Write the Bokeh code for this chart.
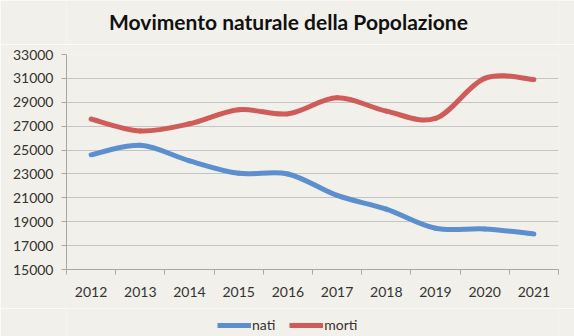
from bokeh.plotting import figure
from bokeh.layouts import column
from bokeh.models import Range1d, FixedTicker, Legend, LegendItem, ColumnDataSource, Label
from bokeh.embed import file_html
from bokeh.resources import INLINE

title_text = "Movimento naturale della Popolazione"
years = ["2012", "2013", "2014", "2015", "2016", "2017", "2018", "2019", "2020", "2021"]
nati = [24600, 25400, 24100, 23050, 23000, 21200, 20050, 18450, 18400, 17980]
morti = [27600, 26600, 27200, 28380, 28030, 29370, 28260, 27650, 31000, 30900]
y_ticks = [15000, 17000, 19000, 21000, 23000, 25000, 27000, 29000, 31000, 33000]

BG = "#f2f0ea"
BLUE = "#5b8fd0"
RED = "#d05c5a"
FONT = "Lato"

xs = [i + 0.5 for i in range(len(years))]


def bezier_source(x, y):
    n = len(x)
    d = dict(x0=[], y0=[], x1=[], y1=[], cx0=[], cy0=[], cx1=[], cy1=[])
    for i in range(n - 1):
        xp, yp = (x[i - 1], y[i - 1]) if i > 0 else (x[i], y[i])
        xn, yn = (x[i + 2], y[i + 2]) if i + 2 < n else (x[i + 1], y[i + 1])
        d["x0"].append(x[i]); d["y0"].append(y[i])
        d["x1"].append(x[i + 1]); d["y1"].append(y[i + 1])
        d["cx0"].append(x[i] + (x[i + 1] - xp) / 6); d["cy0"].append(y[i] + (y[i + 1] - yp) / 6)
        d["cx1"].append(x[i + 1] - (xn - x[i]) / 6); d["cy1"].append(y[i + 1] - (yn - y[i]) / 6)
    return ColumnDataSource(d)


def strip(h):
    f = figure(width=574, height=h, output_backend="svg", toolbar_location=None,
               x_range=Range1d(0, 1), y_range=Range1d(0, 1),
               min_border_left=0, min_border_right=0, min_border_top=0, min_border_bottom=0)
    f.axis.visible = False
    f.grid.grid_line_color = None
    f.outline_line_color = None
    f.background_fill_color = BG
    f.border_fill_color = BG
    return f


# title strip
t = strip(44)
t.add_layout(Label(x=222, y=23, x_units="screen", y_units="screen", text=title_text,
                   text_align="center", text_baseline="middle", text_font=FONT,
                   text_font_style="bold", text_font_size="21px", text_color="#111111"))

p = figure(width=574, height=264, output_backend="svg", toolbar_location=None,
           x_range=Range1d(0, len(years)), y_range=Range1d(y_ticks[0], y_ticks[-1]),
           min_border_left=66, min_border_right=16, min_border_top=10, min_border_bottom=39)
p.background_fill_color = BG
p.border_fill_color = BG
p.outline_line_color = None

for series, color in ((nati, BLUE), (morti, RED)):
    p.bezier(x0="x0", y0="y0", x1="x1", y1="y1", cx0="cx0", cy0="cy0", cx1="cx1", cy1="cy1",
             source=bezier_source(xs, series), line_color=color, line_width=5, line_cap="round")

xa = p.xaxis[0]
xa.ticker = FixedTicker(ticks=xs, minor_ticks=list(range(len(years) + 1)))
xa.major_label_overrides = {x: y for x, y in zip(xs, years)}
xa.major_tick_out = 0
xa.major_tick_in = 0
xa.minor_tick_out = 5
xa.minor_tick_in = 0
xa.minor_tick_line_color = "#a8a8a8"
xa.axis_line_color = "#a8a8a8"
xa.major_label_text_font = FONT
xa.major_label_text_font_size = "14px"
xa.major_label_text_color = "#333333"
xa.major_label_standoff = 12

ya = p.yaxis[0]
ya.ticker = FixedTicker(ticks=y_ticks)
ya.major_tick_out = 5
ya.major_tick_in = 0
ya.minor_tick_line_color = None
ya.major_tick_line_color = "#a8a8a8"
ya.axis_line_color = "#a8a8a8"
ya.major_label_text_font = FONT
ya.major_label_text_font_size = "14px"
ya.major_label_text_color = "#333333"
ya.major_label_standoff = 8

p.xgrid.grid_line_color = None
p.ygrid.grid_line_color = "#c4c4c4"
p.ygrid.grid_line_width = 1

# legend strip below the chart
q = strip(28)
r_nati = q.line(x=[5, 6], y=[5, 6], line_color=BLUE, line_width=5)
r_morti = q.line(x=[5, 6], y=[5, 6], line_color=RED, line_width=5)

legend = Legend(items=[LegendItem(label="nati", renderers=[r_nati]),
                       LegendItem(label="morti", renderers=[r_morti])],
                orientation="horizontal", location=(151, 3),
                background_fill_alpha=0, border_line_color=None,
                glyph_width=34, glyph_height=14, label_standoff=1, spacing=14,
                label_text_font=FONT, label_text_font_size="14px", label_text_color="#333333",
                padding=0, margin=0)
q.add_layout(legend, "center")

layout = column(t, p, q, spacing=0)
open("out.html", "w").write(file_html(layout, INLINE))
